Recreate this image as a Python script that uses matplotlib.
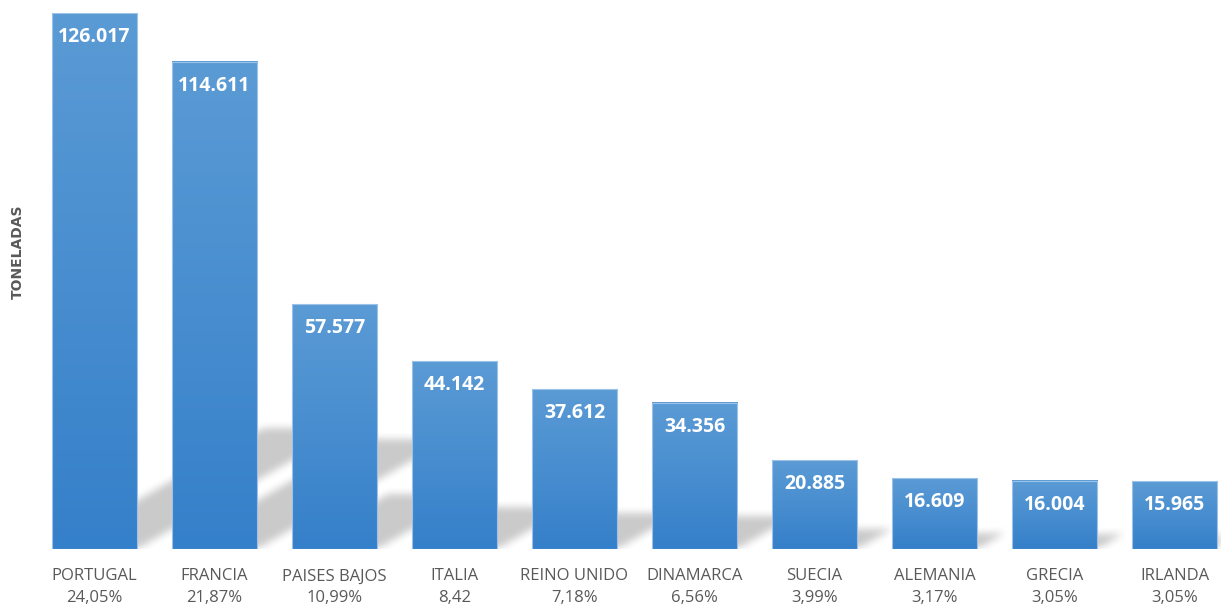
import numpy as np
import matplotlib
matplotlib.use("Agg")
import matplotlib.pyplot as plt
from matplotlib.colors import LinearSegmentedColormap

# datos
paises = ["PORTUGAL", "FRANCIA", "PAISES BAJOS", "ITALIA", "REINO UNIDO",
          "DINAMARCA", "SUECIA", "ALEMANIA", "GRECIA", "IRLANDA"]
toneladas = [126017, 114611, 57577, 44142, 37612, 34356, 20885, 16609, 16004, 15965]
porcentajes = ["24,05%", "21,87%", "10,99%", "8,42", "7,18%",
               "6,56%", "3,99%", "3,17%", "3,05%", "3,05%"]

W_PX, H_PX = 1221, 610
fig = plt.figure(figsize=(W_PX / 100, H_PX / 100), dpi=100)
ax_left, ax_right, ax_top, ax_bottom = 40, 1221, 13, 549
ax = fig.add_axes([ax_left / W_PX, 1 - ax_bottom / H_PX,
                   (ax_right - ax_left) / W_PX, (ax_bottom - ax_top) / H_PX])

x = np.arange(len(paises))
step_px = 120
xlim = ((ax_left - 94.5) / step_px, (ax_right - 94.5) / step_px)
ymax = max(toneladas)
bar_w = 0.71

# sombra en perspectiva (diagonal arriba-derecha), calculada en pixeles
aw, ah = ax_right - ax_left, ax_bottom - ax_top
px = np.arange(aw) + 0.5
py = np.arange(ah) + 0.5
PX, PY = np.meshgrid(px, py)
mask = np.zeros((ah, aw))
for xi, v in zip(x, toneladas):
    h_px = v / ymax * ah
    dy = 0.225 * h_px
    xl = (xi - bar_w / 2 - xlim[0]) * step_px
    xr = (xi + bar_w / 2 - xlim[0]) * step_px
    inside = (PY <= dy) & (PX >= xl + PY * 1.75) & (PX <= xr + PY * 1.75)
    mask = np.maximum(mask, inside.astype(float))

k = np.ones(9) / 9
for _ in range(2):
    mask = np.apply_along_axis(lambda r: np.convolve(r, k, mode="same"), 1, mask)
    mask = np.apply_along_axis(lambda c: np.convolve(c, k, mode="same"), 0, mask)

shadow = np.zeros((ah, aw, 4))
shadow[..., :3] = 0.0
shadow[..., 3] = mask * 0.21
ax.imshow(shadow, extent=(xlim[0], xlim[1], 0, ymax), origin="lower",
          aspect="auto", zorder=0.5, interpolation="bilinear")

# barras con degradado
bars = ax.bar(x, toneladas, width=bar_w, color="none", edgecolor="#9cc2e8",
              linewidth=0.8, zorder=2)
cmap = LinearSegmentedColormap.from_list("azul", ["#3580ca", "#5b9bd5"])
grad = np.linspace(0, 1, 256).reshape(-1, 1)
for b in bars:
    ax.imshow(grad, cmap=cmap, extent=(b.get_x(), b.get_x() + b.get_width(),
                                       0, b.get_height()),
              origin="lower", aspect="auto", zorder=1.5)

for xi, v in zip(x, toneladas):
    ax.annotate(f"{v:,}".replace(",", "."), (xi, v), xytext=(0, -17.3),
                textcoords="offset points", ha="center", va="center",
                color="white", fontsize=14, fontweight="bold",
                family="Open Sans", zorder=3)

ax.set_xlim(*xlim)
ax.set_ylim(0, ymax)
ax.set_xticks(x)
ax.set_xticklabels([f"{p}\n{q}" for p, q in zip(paises, porcentajes)],
                   fontsize=12, color="#595959", family="Open Sans",
                   linespacing=1.45)
ax.tick_params(axis="x", length=0, pad=14)
ax.set_yticks([])
for s in ax.spines.values():
    s.set_visible(False)

fig.text(18 / W_PX, 1 - 252 / H_PX, "TONELADAS", rotation=90, ha="center",
         va="center", fontsize=10, fontweight="bold", color="#595959",
         family="DejaVu Sans")

fig.savefig("out.png", dpi=100)
